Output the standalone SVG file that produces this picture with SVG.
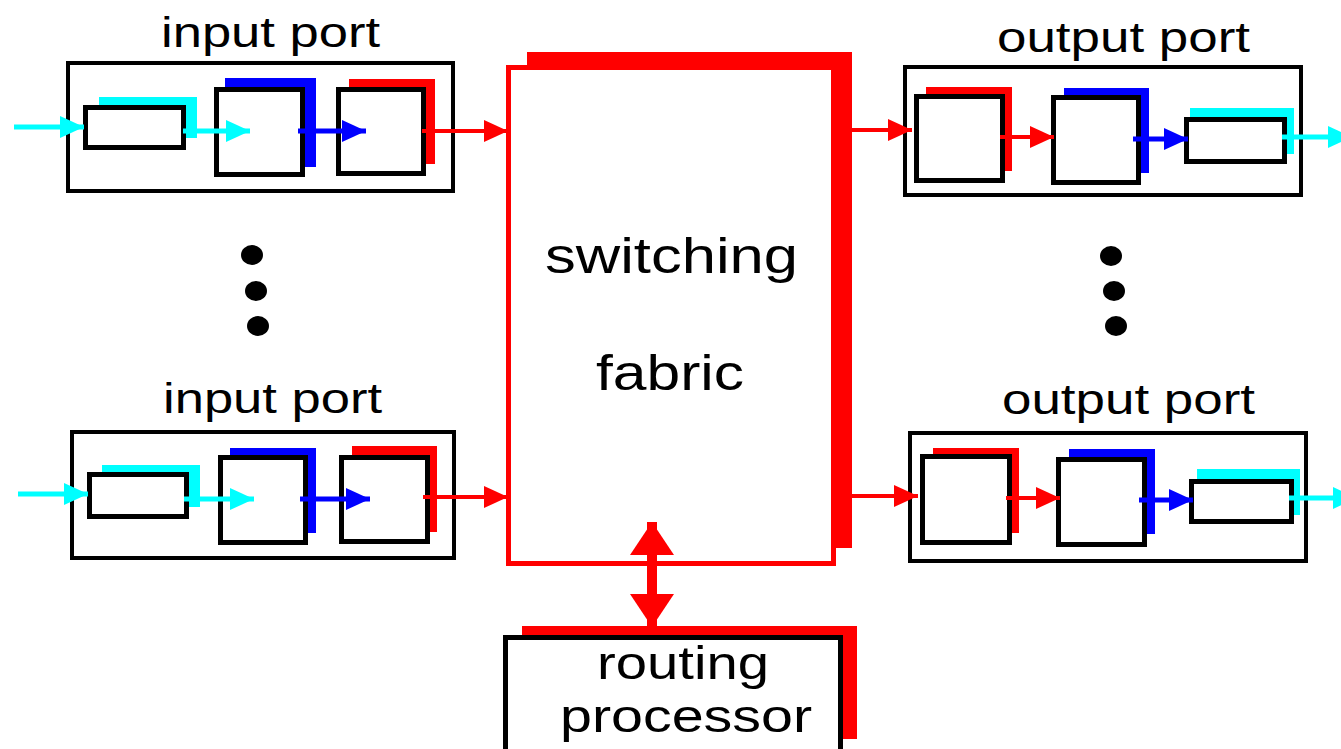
<svg xmlns="http://www.w3.org/2000/svg" width="1341" height="749" viewBox="0 0 1341 749">
<style>
.box{fill:#fff;stroke:#000;stroke-width:5}
.port{fill:none;stroke:#000;stroke-width:4}
.cy{fill:#00FFFF}
.bl{fill:#0000FF}
.rd{fill:#FF0000}
.lc{stroke:#00FFFF;stroke-width:5;fill:none}
.lb{stroke:#0000FF;stroke-width:5;fill:none}
.lr{stroke:#FF0000;stroke-width:4;fill:none}
text{font-family:"Liberation Sans",Arial,sans-serif;fill:#000}
.lbl{font-size:42px}
.big{font-size:50px}
</style>
<defs>
<marker id="mc" markerUnits="userSpaceOnUse" markerWidth="24" markerHeight="22" refX="24" refY="11" orient="auto"><path d="M0,0 L24,11 L0,22 Z" fill="#00FFFF"/></marker>
<marker id="mb" markerUnits="userSpaceOnUse" markerWidth="24" markerHeight="22" refX="24" refY="11" orient="auto"><path d="M0,0 L24,11 L0,22 Z" fill="#0000FF"/></marker>
<marker id="mr" markerUnits="userSpaceOnUse" markerWidth="24" markerHeight="22" refX="24" refY="11" orient="auto"><path d="M0,0 L24,11 L0,22 Z" fill="#FF0000"/></marker>
<marker id="mbig" markerUnits="userSpaceOnUse" markerWidth="33" markerHeight="44" refX="33" refY="22" orient="auto-start-reverse"><path d="M0,0 L33,22 L0,44 Z" fill="#FF0000"/></marker>
</defs>

<g id="switching-fabric">
<rect x="527" y="52" width="325" height="496" class="rd"/>
<rect x="508.5" y="67.5" width="325" height="496" fill="#fff" stroke="#FF0000" stroke-width="5"/>
<text class="big" x="545" y="273" textLength="253" lengthAdjust="spacingAndGlyphs">switching</text>
<text class="big" x="596" y="390" textLength="148" lengthAdjust="spacingAndGlyphs">fabric</text>
</g>

<g id="routing-processor">
<rect x="522" y="626" width="335" height="113" class="rd"/>
<rect x="505.5" y="637.5" width="335" height="130" class="box"/>
<text class="big" x="597" y="679" textLength="172" lengthAdjust="spacingAndGlyphs" style="font-size:46px">routing</text>
<text class="big" x="560" y="732" textLength="252" lengthAdjust="spacingAndGlyphs" style="font-size:46px">processor</text>
</g>

<g id="input-port-1">
<text class="lbl" x="161" y="47" textLength="219" lengthAdjust="spacingAndGlyphs">input port</text>
<rect x="68" y="63" width="385" height="128" class="port"/>
<rect x="99" y="97" width="98" height="41" class="cy"/>
<rect x="85.5" y="107.5" width="98" height="40" class="box"/>
<rect x="225" y="78" width="91" height="89" class="bl"/>
<rect x="216.5" y="89.5" width="86" height="85" class="box"/>
<rect x="349" y="79" width="86" height="85" class="rd"/>
<rect x="338.5" y="89.5" width="85" height="84" class="box"/>
</g>

<g id="input-port-2">
<text class="lbl" x="163" y="413" textLength="219" lengthAdjust="spacingAndGlyphs">input port</text>
<rect x="72" y="432" width="382" height="126" class="port"/>
<rect x="102" y="465" width="98" height="42" class="cy"/>
<rect x="89.5" y="474.5" width="97" height="42" class="box"/>
<rect x="230" y="448" width="86" height="85" class="bl"/>
<rect x="220.5" y="457.5" width="85" height="85" class="box"/>
<rect x="352" y="446" width="85" height="86" class="rd"/>
<rect x="341.5" y="457.5" width="86" height="84" class="box"/>
</g>

<g id="output-port-1">
<text class="lbl" x="997" y="52" textLength="253" lengthAdjust="spacingAndGlyphs">output port</text>
<rect x="905" y="67" width="396" height="128" class="port"/>
<rect x="926" y="87" width="86" height="84" class="rd"/>
<rect x="916.5" y="96.5" width="86" height="84" class="box"/>
<rect x="1064" y="88" width="85" height="85" class="bl"/>
<rect x="1053.5" y="97.5" width="85" height="85" class="box"/>
<rect x="1190" y="108" width="104" height="46" class="cy"/>
<rect x="1186.5" y="119.5" width="98" height="42" class="box"/>
</g>

<g id="output-port-2">
<text class="lbl" x="1002" y="414" textLength="253" lengthAdjust="spacingAndGlyphs">output port</text>
<rect x="910" y="433" width="396" height="128" class="port"/>
<rect x="933" y="448" width="86" height="85" class="rd"/>
<rect x="922.5" y="456.5" width="87" height="86" class="box"/>
<rect x="1069" y="449" width="86" height="85" class="bl"/>
<rect x="1058.5" y="459.5" width="86" height="85" class="box"/>
<rect x="1197" y="469" width="103" height="46" class="cy"/>
<rect x="1191.5" y="481.5" width="100" height="40" class="box"/>
</g>

<g id="dots">
<ellipse cx="252" cy="255" rx="11" ry="10"/>
<ellipse cx="256" cy="291" rx="11" ry="10"/>
<ellipse cx="258" cy="326" rx="11" ry="10"/>
<ellipse cx="1111" cy="256" rx="11" ry="10"/>
<ellipse cx="1114" cy="291" rx="11" ry="10"/>
<ellipse cx="1116" cy="326" rx="11" ry="10"/>
</g>

<g id="connectors">
<line x1="14" y1="127" x2="84" y2="127" class="lc" marker-end="url(#mc)"/>
<line x1="183" y1="131" x2="250" y2="131" class="lc" marker-end="url(#mc)"/>
<line x1="298" y1="131" x2="366" y2="131" class="lb" marker-end="url(#mb)"/>
<line x1="422" y1="131" x2="508" y2="131" class="lr" marker-end="url(#mr)"/>

<line x1="18" y1="494" x2="88" y2="494" class="lc" marker-end="url(#mc)"/>
<line x1="184" y1="499" x2="254" y2="499" class="lc" marker-end="url(#mc)"/>
<line x1="300" y1="499" x2="370" y2="499" class="lb" marker-end="url(#mb)"/>
<line x1="423" y1="497" x2="508" y2="497" class="lr" marker-end="url(#mr)"/>

<line x1="852" y1="130" x2="912" y2="130" class="lr" marker-end="url(#mr)"/>
<line x1="1000" y1="137" x2="1054" y2="137" class="lr" marker-end="url(#mr)"/>
<line x1="1133" y1="139" x2="1188" y2="139" class="lb" marker-end="url(#mb)"/>
<line x1="1282" y1="137" x2="1352" y2="137" class="lc" marker-end="url(#mc)"/>

<line x1="852" y1="496" x2="918" y2="496" class="lr" marker-end="url(#mr)"/>
<line x1="1006" y1="498" x2="1060" y2="498" class="lr" marker-end="url(#mr)"/>
<line x1="1139" y1="500" x2="1193" y2="500" class="lb" marker-end="url(#mb)"/>
<line x1="1289" y1="498" x2="1357" y2="498" class="lc" marker-end="url(#mc)"/>

<line x1="652" y1="522" x2="652" y2="627" stroke="#FF0000" stroke-width="10" marker-start="url(#mbig)" marker-end="url(#mbig)"/>
</g>
</svg>
